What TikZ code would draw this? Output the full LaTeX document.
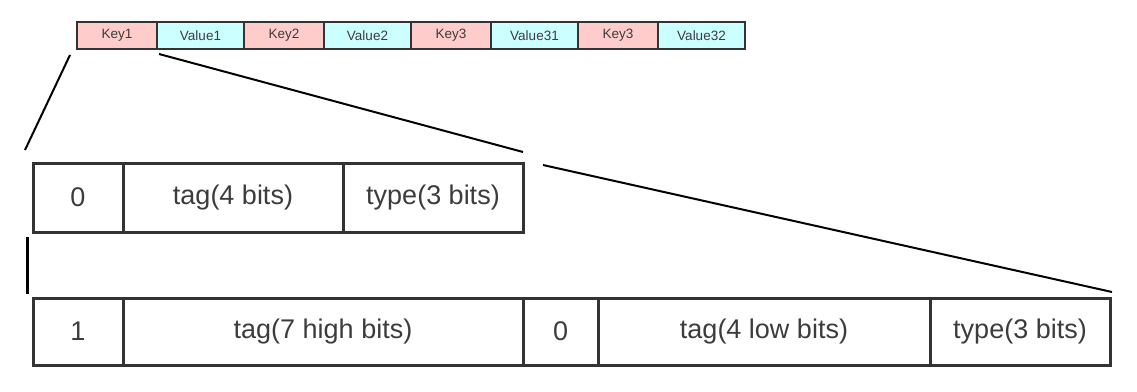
\documentclass[tikz,border=0pt]{standalone}
\usepackage{fontspec}
\setmainfont{Liberation Sans}
\definecolor{keyc}{RGB}{255,204,204}
\definecolor{valc}{RGB}{204,255,255}
\definecolor{edge}{RGB}{51,51,51}
\definecolor{txt}{RGB}{60,60,60}
\begin{document}
\begin{tikzpicture}[x=1pt,y=-1pt,
  small/.style={draw=edge,line width=1.8pt,inner sep=0,outer sep=0,anchor=north west,minimum height=27pt,font=\fontsize{13.5}{15}\selectfont,text=txt},
  kcell/.style={small,fill=keyc,minimum width=80pt},
  vcell/.style={small,fill=valc,minimum width=87pt},
  big/.style={draw=edge,line width=3pt,inner sep=0,outer sep=0,anchor=north west,font=\fontsize{27}{30}\selectfont,text=txt},
  midc/.style={big,minimum height=69pt},
  botc/.style={big,minimum height=67pt},
  conn/.style={draw=black,line width=2pt}]
\useasboundingbox (0,0) rectangle (1137,391);
% top row
\node[kcell] (k1) at (77,22) {Key1};
\node[vcell] (v1) at (157,22) {Value1};
\node[kcell] (k2) at (244,22) {Key2};
\node[vcell] (v2) at (324,22) {Value2};
\node[kcell] (k3) at (411,22) {Key3};
\node[vcell] (v31) at (491,22) {Value31};
\node[kcell] (k4) at (578,22) {Key3};
\node[vcell] (v32) at (658,22) {Value32};
% middle row
\node[midc,minimum width=90pt] (m0) at (33,163) {0};
\node[midc,minimum width=220pt] (mtag) at (123,163) {tag(4 bits)};
\node[midc,minimum width=180pt] (mtype) at (343,163) {type(3 bits)};
% bottom row
\node[botc,minimum width=90pt] (b1) at (33,298) {1};
\node[botc,minimum width=400pt] (btagh) at (123,298) {tag(7 high bits)};
\node[botc,minimum width=75pt] (b0) at (523,298) {0};
\node[botc,minimum width=332pt] (btagl) at (598,298) {tag(4 low bits)};
\node[botc,minimum width=180pt] (btype) at (930,298) {type(3 bits)};
% connector ends
\coordinate (a1) at (70,55);
\coordinate (a2) at (25,150);
\coordinate (c1) at (159,54);
\coordinate (c2) at (523,152);
\coordinate (d1) at (543,165);
\coordinate (d2) at (1112,292);
\coordinate (e1) at (27,237);
\coordinate (e2) at (27,294);
\draw[conn] (a1) -- (a2);
\draw[conn] (c1) -- (c2);
\draw[conn] (d1) -- (d2);
\draw[conn,line width=3pt] (e1) -- (e2);
\end{tikzpicture}
\end{document}
